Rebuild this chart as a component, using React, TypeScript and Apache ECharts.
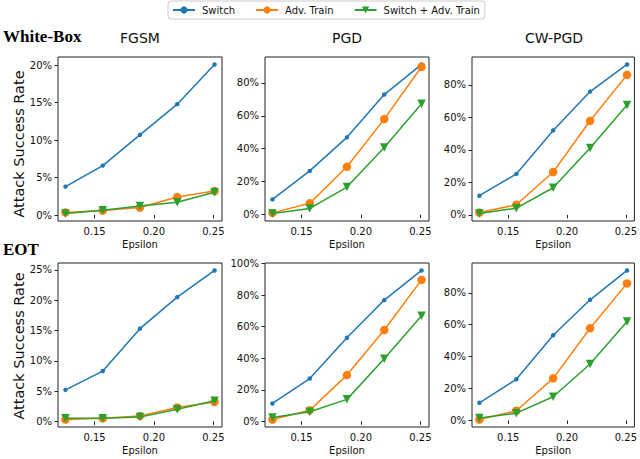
import React, { useEffect, useRef } from "react";
import * as echarts from "echarts";

// ---------- data ----------
const EPSILON = [0.1255, 0.1569, 0.1882, 0.2196, 0.251];
const X_TICKS = [0.15, 0.2, 0.25];
const SERIES_NAMES = ["Switch", "Adv. Train", "Switch + Adv. Train"];
const ATTACKS = ["FGSM", "PGD", "CW-PGD"];
const SETTINGS = ["White-Box", "EOT"];

// White-Box
const WB_FGSM_SWITCH = [3.8, 6.6, 10.7, 14.8, 20.1];
const WB_FGSM_ADV = [0.35, 0.6, 1.0, 2.4, 3.2];
const WB_FGSM_BOTH = [0.2, 0.65, 1.2, 1.7, 3.05];
const WB_PGD_SWITCH = [9.2, 26.5, 46.9, 72.9, 91.2];
const WB_PGD_ADV = [1.0, 6.9, 29.0, 58.0, 89.8];
const WB_PGD_BOTH = [0.6, 3.7, 16.7, 40.8, 67.3];
const WB_CW_SWITCH = [11.8, 25.2, 52.0, 75.9, 92.6];
const WB_CW_ADV = [1.4, 6.2, 26.4, 57.9, 86.2];
const WB_CW_BOTH = [0.8, 4.1, 16.7, 41.1, 67.6];

// EOT
const EOT_FGSM_SWITCH = [5.2, 8.3, 15.3, 20.5, 24.9];
const EOT_FGSM_ADV = [0.3, 0.5, 0.9, 2.3, 3.2];
const EOT_FGSM_BOTH = [0.5, 0.5, 0.7, 2.0, 3.4];
const EOT_PGD_SWITCH = [11.3, 27.1, 53.0, 76.9, 95.7];
const EOT_PGD_ADV = [1.1, 7.0, 29.3, 57.9, 89.7];
const EOT_PGD_BOTH = [2.4, 6.0, 13.9, 39.7, 66.9];
const EOT_CW_SWITCH = [11.1, 25.8, 53.4, 75.6, 94.0];
const EOT_CW_ADV = [0.6, 6.1, 26.4, 57.8, 85.9];
const EOT_CW_BOTH = [1.5, 4.6, 14.9, 35.4, 62.0];

// y tick labels (percent)
const TICKS_FGSM_WB = [0, 5, 10, 15, 20];
const TICKS_FGSM_EOT = [0, 5, 10, 15, 20, 25];
const TICKS_PGD_WB = [0, 20, 40, 60, 80];
const TICKS_PGD_EOT = [0, 20, 40, 60, 80, 100];
const TICKS_CW = [0, 20, 40, 60, 80];

const PANELS = [
  { row: 0, col: 0, data: [WB_FGSM_SWITCH, WB_FGSM_ADV, WB_FGSM_BOTH], ticks: TICKS_FGSM_WB },
  { row: 0, col: 1, data: [WB_PGD_SWITCH, WB_PGD_ADV, WB_PGD_BOTH], ticks: TICKS_PGD_WB },
  { row: 0, col: 2, data: [WB_CW_SWITCH, WB_CW_ADV, WB_CW_BOTH], ticks: TICKS_CW },
  { row: 1, col: 0, data: [EOT_FGSM_SWITCH, EOT_FGSM_ADV, EOT_FGSM_BOTH], ticks: TICKS_FGSM_EOT },
  { row: 1, col: 1, data: [EOT_PGD_SWITCH, EOT_PGD_ADV, EOT_PGD_BOTH], ticks: TICKS_PGD_EOT },
  { row: 1, col: 2, data: [EOT_CW_SWITCH, EOT_CW_ADV, EOT_CW_BOTH], ticks: TICKS_CW },
];

// ---------- style / layout ----------
const COLORS = ["#1f77b4", "#ff7f0e", "#2ca02c"];
const SYMBOLS = ["circle", "circle", "triangle"];
const SYMBOL_SIZES = [4.5, 8.5, 8.5];
const SYMBOL_ROTATE = [0, 0, 180];
const FONT = "DejaVu Sans";
const SERIF = "Liberation Serif";
const GRID_LEFTS = [58, 265, 472];
const GRID_WIDTH = 164;
const GRID_TOPS = [57, 263];
const GRID_HEIGHT = 164;

function padExtent(vals: number[]) {
  const lo = Math.min(...vals);
  const hi = Math.max(...vals);
  const m = (hi - lo) * 0.05;
  return [lo - m, hi + m];
}

export default function App() {
  const ref = useRef<HTMLDivElement>(null);
  useEffect(() => {
    if (!ref.current) return;
    const chart = echarts.init(ref.current, undefined, { renderer: "svg" });
    const [xMin, xMax] = padExtent(EPSILON);

    const grid: any[] = [];
    const xAxis: any[] = [];
    const yAxis: any[] = [];
    const series: any[] = [];

    PANELS.forEach((p, i) => {
      grid.push({
        left: GRID_LEFTS[p.col],
        top: GRID_TOPS[p.row],
        width: GRID_WIDTH,
        height: GRID_HEIGHT,
        show: true,
        borderColor: "#222",
        borderWidth: 1,
        backgroundColor: "transparent",
      });
      xAxis.push({
        type: "value",
        gridIndex: i,
        min: xMin,
        max: xMax,
        name: "Epsilon",
        nameLocation: "middle",
        nameGap: 18,
        nameTextStyle: { fontSize: 10, fontFamily: FONT, color: "#111" },
        axisLine: { show: false },
        axisTick: {
          show: true,
          customValues: X_TICKS,
          length: 3.5,
          lineStyle: { color: "#222", width: 1 },
        },
        axisLabel: {
          customValues: X_TICKS,
          formatter: (v: number) => v.toFixed(2),
          fontSize: 10,
          fontFamily: FONT,
          color: "#111",
          margin: 5,
        },
        splitLine: { show: false },
      });
      const all = ([] as number[]).concat(...p.data);
      const [yMin, yMax] = padExtent(all);
      yAxis.push({
        type: "value",
        gridIndex: i,
        min: yMin,
        max: yMax,
        axisLine: { show: false },
        axisTick: {
          show: true,
          customValues: p.ticks,
          length: 3.5,
          lineStyle: { color: "#222", width: 1 },
        },
        axisLabel: {
          customValues: p.ticks,
          formatter: (v: number) => `${v}%`,
          fontSize: 10,
          fontFamily: FONT,
          color: "#111",
          margin: 6,
        },
        splitLine: { show: false },
      });
      p.data.forEach((vals, s) => {
        series.push({
          type: "line",
          name: SERIES_NAMES[s],
          xAxisIndex: i,
          yAxisIndex: i,
          data: EPSILON.map((e, k) => [e, vals[k]]),
          symbol: SYMBOLS[s],
          symbolSize: SYMBOL_SIZES[s],
          symbolRotate: SYMBOL_ROTATE[s],
          showSymbol: true,
          color: COLORS[s],
          itemStyle: { color: COLORS[s] },
          lineStyle: { color: COLORS[s], width: 1.5 },
          z: 2 + s,
          emphasis: { disabled: true },
        });
      });
    });

    const graphic: any[] = [];
    ATTACKS.forEach((a, c) => {
      graphic.push({
        type: "text",
        x: GRID_LEFTS[c] + GRID_WIDTH / 2,
        y: 37.5,
        style: {
          text: a,
          fontSize: 14,
          fontFamily: FONT,
          fill: "#111",
          align: "center",
          verticalAlign: "middle",
        },
      });
    });
    const rowLabelY = [36, 249];
    SETTINGS.forEach((s, r) => {
      graphic.push({
        type: "text",
        x: 3,
        y: rowLabelY[r],
        style: {
          text: s,
          fontSize: 17,
          fontWeight: "bold",
          fontFamily: SERIF,
          fill: "#000",
          align: "left",
          verticalAlign: "middle",
        },
      });
    });
    const yLabelY = [144, 346];
    yLabelY.forEach((yy) => {
      graphic.push({
        type: "text",
        x: 19,
        y: yy,
        rotation: Math.PI / 2,
        style: {
          text: "Attack Success Rate",
          fontSize: 14.5,
          fontFamily: FONT,
          fill: "#111",
          align: "center",
          verticalAlign: "middle",
        },
      });
    });

    chart.setOption({
      animation: false,
      backgroundColor: "#fff",
      legend: {
        data: SERIES_NAMES,
        left: 168,
        top: 1,
        padding: [4, 5, 4, 4],
        itemWidth: 22,
        itemHeight: 9,
        itemGap: 20,
        borderColor: "#ccc",
        borderWidth: 1,
        borderRadius: 3,
        textStyle: { fontSize: 10, fontFamily: FONT, color: "#111", padding: [0, 0, 0, 2] },
      },
      grid,
      xAxis,
      yAxis,
      series,
      graphic,
    });
    return () => chart.dispose();
  }, []);
  return (
    <div
      ref={ref}
      style={{ position: "fixed", left: 0, top: 0, width: 640, height: 459, background: "#fff" }}
    />
  );
}
